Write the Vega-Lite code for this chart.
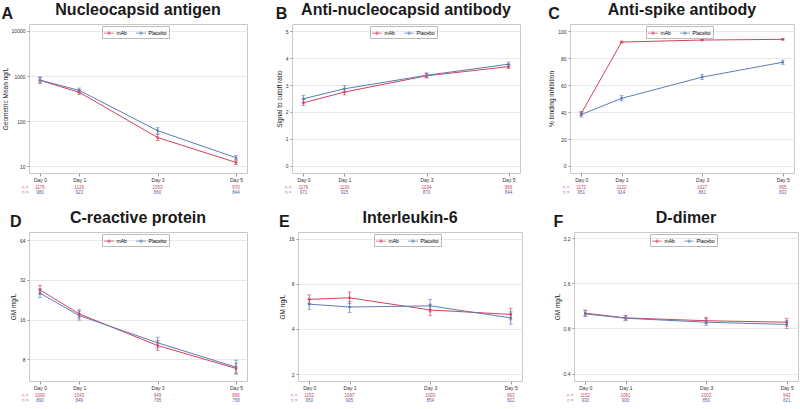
{
  "$schema": "https://vega.github.io/schema/vega-lite/v6.json",
  "background": "white",
  "padding": {"left": 1, "top": 1, "right": 0, "bottom": 0},
  "datasets": {
    "m": [
      {"panel":"A","group":"mAb","day":0,"mean":800,"lo":690,"hi":930},
      {"panel":"A","group":"mAb","day":1,"mean":435,"lo":385,"hi":490},
      {"panel":"A","group":"mAb","day":3,"mean":43,"lo":37,"hi":50},
      {"panel":"A","group":"mAb","day":5,"mean":12,"lo":10.8,"hi":13.5},
      {"panel":"A","group":"Placebo","day":0,"mean":810,"lo":700,"hi":950},
      {"panel":"A","group":"Placebo","day":1,"mean":480,"lo":430,"hi":540},
      {"panel":"A","group":"Placebo","day":3,"mean":61,"lo":52,"hi":71},
      {"panel":"A","group":"Placebo","day":5,"mean":15.3,"lo":13.8,"hi":17},
      {"panel":"B","group":"mAb","day":0,"mean":2.34,"lo":2.24,"hi":2.46},
      {"panel":"B","group":"mAb","day":1,"mean":2.74,"lo":2.63,"hi":2.86},
      {"panel":"B","group":"mAb","day":3,"mean":3.34,"lo":3.26,"hi":3.43},
      {"panel":"B","group":"mAb","day":5,"mean":3.68,"lo":3.61,"hi":3.76},
      {"panel":"B","group":"Placebo","day":0,"mean":2.49,"lo":2.36,"hi":2.62},
      {"panel":"B","group":"Placebo","day":1,"mean":2.86,"lo":2.74,"hi":2.98},
      {"panel":"B","group":"Placebo","day":3,"mean":3.36,"lo":3.27,"hi":3.45},
      {"panel":"B","group":"Placebo","day":5,"mean":3.77,"lo":3.7,"hi":3.85},
      {"panel":"C","group":"mAb","day":0,"mean":39,"lo":37.5,"hi":40.5},
      {"panel":"C","group":"mAb","day":1,"mean":92,"lo":91.3,"hi":92.7},
      {"panel":"C","group":"mAb","day":3,"mean":93.5,"lo":93,"hi":94},
      {"panel":"C","group":"mAb","day":5,"mean":94,"lo":93.5,"hi":94.5},
      {"panel":"C","group":"Placebo","day":0,"mean":38.2,"lo":36.3,"hi":40.1},
      {"panel":"C","group":"Placebo","day":1,"mean":50.2,"lo":48.3,"hi":52.2},
      {"panel":"C","group":"Placebo","day":3,"mean":66,"lo":64.2,"hi":67.9},
      {"panel":"C","group":"Placebo","day":5,"mean":77,"lo":75.5,"hi":78.5},
      {"panel":"D","group":"mAb","day":0,"mean":26.9,"lo":25,"hi":29},
      {"panel":"D","group":"mAb","day":1,"mean":17.7,"lo":16.5,"hi":19},
      {"panel":"D","group":"mAb","day":3,"mean":10.2,"lo":9.4,"hi":11.1},
      {"panel":"D","group":"mAb","day":5,"mean":6.85,"lo":6.3,"hi":7.5},
      {"panel":"D","group":"Placebo","day":0,"mean":25.4,"lo":23.6,"hi":27.4},
      {"panel":"D","group":"Placebo","day":1,"mean":17.2,"lo":15.9,"hi":18.6},
      {"panel":"D","group":"Placebo","day":3,"mean":10.7,"lo":9.8,"hi":11.8},
      {"panel":"D","group":"Placebo","day":5,"mean":7.0,"lo":6.2,"hi":7.9},
      {"panel":"E","group":"mAb","day":0,"mean":6.3,"lo":5.9,"hi":6.75},
      {"panel":"E","group":"mAb","day":1,"mean":6.45,"lo":5.9,"hi":7.05},
      {"panel":"E","group":"mAb","day":3,"mean":5.35,"lo":4.9,"hi":5.85},
      {"panel":"E","group":"mAb","day":5,"mean":5.0,"lo":4.6,"hi":5.5},
      {"panel":"E","group":"Placebo","day":0,"mean":5.85,"lo":5.4,"hi":6.3},
      {"panel":"E","group":"Placebo","day":1,"mean":5.6,"lo":5.15,"hi":6.1},
      {"panel":"E","group":"Placebo","day":3,"mean":5.7,"lo":5.2,"hi":6.3},
      {"panel":"E","group":"Placebo","day":5,"mean":4.74,"lo":4.3,"hi":5.2},
      {"panel":"F","group":"mAb","day":0,"mean":1.01,"lo":0.97,"hi":1.06},
      {"panel":"F","group":"mAb","day":1,"mean":0.94,"lo":0.91,"hi":0.98},
      {"panel":"F","group":"mAb","day":3,"mean":0.9,"lo":0.86,"hi":0.95},
      {"panel":"F","group":"mAb","day":5,"mean":0.88,"lo":0.83,"hi":0.93},
      {"panel":"F","group":"Placebo","day":0,"mean":1.0,"lo":0.96,"hi":1.05},
      {"panel":"F","group":"Placebo","day":1,"mean":0.935,"lo":0.9,"hi":0.97},
      {"panel":"F","group":"Placebo","day":3,"mean":0.88,"lo":0.84,"hi":0.93},
      {"panel":"F","group":"Placebo","day":5,"mean":0.85,"lo":0.8,"hi":0.9}
    ],
    "n": [
      {"panel":"A","group":"mAb","day":0,"n":1176},{"panel":"A","group":"mAb","day":1,"n":1126},{"panel":"A","group":"mAb","day":3,"n":1053},{"panel":"A","group":"mAb","day":5,"n":970},
      {"panel":"A","group":"Placebo","day":0,"n":980},{"panel":"A","group":"Placebo","day":1,"n":923},{"panel":"A","group":"Placebo","day":3,"n":860},{"panel":"A","group":"Placebo","day":5,"n":844},
      {"panel":"B","group":"mAb","day":0,"n":1176},{"panel":"B","group":"mAb","day":1,"n":1130},{"panel":"B","group":"mAb","day":3,"n":1034},{"panel":"B","group":"mAb","day":5,"n":969},
      {"panel":"B","group":"Placebo","day":0,"n":971},{"panel":"B","group":"Placebo","day":1,"n":925},{"panel":"B","group":"Placebo","day":3,"n":870},{"panel":"B","group":"Placebo","day":5,"n":844},
      {"panel":"C","group":"mAb","day":0,"n":1172},{"panel":"C","group":"mAb","day":1,"n":1122},{"panel":"C","group":"mAb","day":3,"n":1027},{"panel":"C","group":"mAb","day":5,"n":965},
      {"panel":"C","group":"Placebo","day":0,"n":951},{"panel":"C","group":"Placebo","day":1,"n":914},{"panel":"C","group":"Placebo","day":3,"n":861},{"panel":"C","group":"Placebo","day":5,"n":833},
      {"panel":"D","group":"mAb","day":0,"n":1090},{"panel":"D","group":"mAb","day":1,"n":1043},{"panel":"D","group":"mAb","day":3,"n":949},{"panel":"D","group":"mAb","day":5,"n":896},
      {"panel":"D","group":"Placebo","day":0,"n":890},{"panel":"D","group":"Placebo","day":1,"n":849},{"panel":"D","group":"Placebo","day":3,"n":795},{"panel":"D","group":"Placebo","day":5,"n":758},
      {"panel":"E","group":"mAb","day":0,"n":1152},{"panel":"E","group":"mAb","day":1,"n":1097},{"panel":"E","group":"mAb","day":3,"n":1003},{"panel":"E","group":"mAb","day":5,"n":963},
      {"panel":"E","group":"Placebo","day":0,"n":950},{"panel":"E","group":"Placebo","day":1,"n":905},{"panel":"E","group":"Placebo","day":3,"n":854},{"panel":"E","group":"Placebo","day":5,"n":822},
      {"panel":"F","group":"mAb","day":0,"n":1152},{"panel":"F","group":"mAb","day":1,"n":1081},{"panel":"F","group":"mAb","day":3,"n":1003},{"panel":"F","group":"mAb","day":5,"n":942},
      {"panel":"F","group":"Placebo","day":0,"n":930},{"panel":"F","group":"Placebo","day":1,"n":900},{"panel":"F","group":"Placebo","day":3,"n":850},{"panel":"F","group":"Placebo","day":5,"n":821}
    ]
  },
  "spacing": 14,
  "resolve": {"scale": {"x": "independent", "y": "independent", "color": "independent"}, "legend": {"color": "independent"}},
  "vconcat": [
    {
      "spacing": 27,
      "resolve": {"scale": {"x": "independent", "y": "independent", "color": "independent"}, "legend": {"color": "independent"}},
      "hconcat": [
        {
          "title": {"text": "A", "anchor": "start", "frame": "bounds", "offset": -20},
          "spacing": 1,
          "resolve": {"scale": {"x": "independent", "y": "independent", "color": "independent"}, "legend": {"color": "independent"}},
          "vconcat": [
            {
              "width": 218, "height": 149,
              "title": {"text": "Nucleocapsid antigen", "anchor": "middle", "frame": "group", "offset": 6},
              "data": {"name": "m"},
              "transform": [{"filter": "datum.panel == 'A'"}],
              "encoding": {
                "x": {"field": "day", "type": "quantitative", "scale": {"domain": [-0.28, 5.28], "nice": false, "zero": false}, "axis": {"values": [0, 1, 3, 5], "labelExpr": "'Day ' + datum.value", "title": null}},
                "color": {"field": "group", "type": "nominal", "scale": {"domain": ["mAb", "Placebo"], "range": ["#d0435b", "#5a7db5"]}, "legend": {"orient": "none", "legendX": 73, "legendY": 2, "direction": "horizontal", "title": null, "symbolType": "M-1,0L1,0M-0.25,0A0.25,0.25,0,1,1,0.25,0A0.25,0.25,0,1,1,-0.25,0Z"}}
              },
              "layer": [
                {"mark": {"type": "line", "strokeWidth": 1}, "encoding": {"y": {"field": "mean", "type": "quantitative", "scale": {"type": "log", "domain": [7, 14300], "nice": false}, "axis": {"values": [10, 100, 1000, 10000], "format": "d", "labelOverlap": false, "title": "Geometric Mean ng/L"}}}},
                {"mark": {"type": "rule", "strokeWidth": 0.8}, "encoding": {"y": {"field": "lo", "type": "quantitative"}, "y2": {"field": "hi"}}},
                {"mark": {"type": "tick", "orient": "horizontal", "size": 4, "thickness": 0.8}, "encoding": {"y": {"field": "lo", "type": "quantitative"}}},
                {"mark": {"type": "tick", "orient": "horizontal", "size": 4, "thickness": 0.8}, "encoding": {"y": {"field": "hi", "type": "quantitative"}}},
                {"mark": {"type": "point", "filled": true, "size": 7, "opacity": 1}, "encoding": {"y": {"field": "mean", "type": "quantitative"}}}
              ]
            },
            {
              "width": 218, "height": 10,
              "view": {"stroke": null},
              "data": {"name": "n"},
              "transform": [{"filter": "datum.panel == 'A'"}],
              "mark": {"type": "text", "fontSize": 4.5},
              "encoding": {
                "x": {"field": "day", "type": "quantitative", "scale": {"domain": [-0.28, 5.28], "nice": false, "zero": false}, "axis": null},
                "y": {"field": "group", "type": "nominal", "sort": ["mAb", "Placebo"], "axis": {"title": null, "labelExpr": "'n ='", "ticks": false, "grid": false, "domain": false, "labelFontSize": 4.5, "labelColor": {"condition": {"test": "datum.value === 'mAb'", "value": "#d98090"}, "value": "#8098c0"}, "labelPadding": 1}},
                "text": {"field": "n", "type": "nominal"},
                "color": {"field": "group", "type": "nominal", "scale": {"domain": ["mAb", "Placebo"], "range": ["#d0435b", "#4a6aa5"]}, "legend": null}
              }
            }
          ]
        },
        {
          "title": {"text": "B", "anchor": "start", "frame": "bounds", "offset": -20},
          "spacing": 1,
          "resolve": {"scale": {"x": "independent", "y": "independent", "color": "independent"}, "legend": {"color": "independent"}},
          "vconcat": [
            {
              "width": 228, "height": 149,
              "title": {"text": "Anti-nucleocapsid antibody", "anchor": "middle", "frame": "group", "offset": 6},
              "data": {"name": "m"},
              "transform": [{"filter": "datum.panel == 'B'"}],
              "encoding": {
                "x": {"field": "day", "type": "quantitative", "scale": {"domain": [-0.28, 5.28], "nice": false, "zero": false}, "axis": {"values": [0, 1, 3, 5], "labelExpr": "'Day ' + datum.value", "title": null}},
                "color": {"field": "group", "type": "nominal", "scale": {"domain": ["mAb", "Placebo"], "range": ["#d0435b", "#5a7db5"]}, "legend": {"orient": "none", "legendX": 78, "legendY": 2, "direction": "horizontal", "title": null, "symbolType": "M-1,0L1,0M-0.25,0A0.25,0.25,0,1,1,0.25,0A0.25,0.25,0,1,1,-0.25,0Z"}}
              },
              "layer": [
                {"mark": {"type": "line", "strokeWidth": 1}, "encoding": {"y": {"field": "mean", "type": "quantitative", "scale": {"domain": [-0.26, 5.26], "nice": false, "zero": false}, "axis": {"values": [0, 1, 2, 3, 4, 5], "tickCount": 6, "labelOverlap": false, "title": "Signal to cutoff ratio"}}}},
                {"mark": {"type": "rule", "strokeWidth": 0.8}, "encoding": {"y": {"field": "lo", "type": "quantitative"}, "y2": {"field": "hi"}}},
                {"mark": {"type": "tick", "orient": "horizontal", "size": 4, "thickness": 0.8}, "encoding": {"y": {"field": "lo", "type": "quantitative"}}},
                {"mark": {"type": "tick", "orient": "horizontal", "size": 4, "thickness": 0.8}, "encoding": {"y": {"field": "hi", "type": "quantitative"}}},
                {"mark": {"type": "point", "filled": true, "size": 7, "opacity": 1}, "encoding": {"y": {"field": "mean", "type": "quantitative"}}}
              ]
            },
            {
              "width": 228, "height": 10,
              "view": {"stroke": null},
              "data": {"name": "n"},
              "transform": [{"filter": "datum.panel == 'B'"}],
              "mark": {"type": "text", "fontSize": 4.5},
              "encoding": {
                "x": {"field": "day", "type": "quantitative", "scale": {"domain": [-0.28, 5.28], "nice": false, "zero": false}, "axis": null},
                "y": {"field": "group", "type": "nominal", "sort": ["mAb", "Placebo"], "axis": {"title": null, "labelExpr": "'n ='", "ticks": false, "grid": false, "domain": false, "labelFontSize": 4.5, "labelColor": {"condition": {"test": "datum.value === 'mAb'", "value": "#d98090"}, "value": "#8098c0"}, "labelPadding": 1}},
                "text": {"field": "n", "type": "nominal"},
                "color": {"field": "group", "type": "nominal", "scale": {"domain": ["mAb", "Placebo"], "range": ["#d0435b", "#4a6aa5"]}, "legend": null}
              }
            }
          ]
        },
        {
          "title": {"text": "C", "anchor": "start", "frame": "bounds", "offset": -20},
          "spacing": 1,
          "resolve": {"scale": {"x": "independent", "y": "independent", "color": "independent"}, "legend": {"color": "independent"}},
          "vconcat": [
            {
              "width": 224, "height": 149,
              "title": {"text": "Anti-spike antibody", "anchor": "middle", "frame": "group", "offset": 6},
              "data": {"name": "m"},
              "transform": [{"filter": "datum.panel == 'C'"}],
              "encoding": {
                "x": {"field": "day", "type": "quantitative", "scale": {"domain": [-0.28, 5.28], "nice": false, "zero": false}, "axis": {"values": [0, 1, 3, 5], "labelExpr": "'Day ' + datum.value", "title": null}},
                "color": {"field": "group", "type": "nominal", "scale": {"domain": ["mAb", "Placebo"], "range": ["#d0435b", "#5a7db5"]}, "legend": {"orient": "none", "legendX": 76, "legendY": 2, "direction": "horizontal", "title": null, "symbolType": "M-1,0L1,0M-0.25,0A0.25,0.25,0,1,1,0.25,0A0.25,0.25,0,1,1,-0.25,0Z"}}
              },
              "layer": [
                {"mark": {"type": "line", "strokeWidth": 1}, "encoding": {"y": {"field": "mean", "type": "quantitative", "scale": {"domain": [-5.2, 105.4], "nice": false, "zero": false}, "axis": {"values": [0, 20, 40, 60, 80, 100], "tickCount": 6, "labelOverlap": false, "title": "% binding inhibition"}}}},
                {"mark": {"type": "rule", "strokeWidth": 0.8}, "encoding": {"y": {"field": "lo", "type": "quantitative"}, "y2": {"field": "hi"}}},
                {"mark": {"type": "tick", "orient": "horizontal", "size": 4, "thickness": 0.8}, "encoding": {"y": {"field": "lo", "type": "quantitative"}}},
                {"mark": {"type": "tick", "orient": "horizontal", "size": 4, "thickness": 0.8}, "encoding": {"y": {"field": "hi", "type": "quantitative"}}},
                {"mark": {"type": "point", "filled": true, "size": 7, "opacity": 1}, "encoding": {"y": {"field": "mean", "type": "quantitative"}}}
              ]
            },
            {
              "width": 224, "height": 10,
              "view": {"stroke": null},
              "data": {"name": "n"},
              "transform": [{"filter": "datum.panel == 'C'"}],
              "mark": {"type": "text", "fontSize": 4.5},
              "encoding": {
                "x": {"field": "day", "type": "quantitative", "scale": {"domain": [-0.28, 5.28], "nice": false, "zero": false}, "axis": null},
                "y": {"field": "group", "type": "nominal", "sort": ["mAb", "Placebo"], "axis": {"title": null, "labelExpr": "'n ='", "ticks": false, "grid": false, "domain": false, "labelFontSize": 4.5, "labelColor": {"condition": {"test": "datum.value === 'mAb'", "value": "#d98090"}, "value": "#8098c0"}, "labelPadding": 1}},
                "text": {"field": "n", "type": "nominal"},
                "color": {"field": "group", "type": "nominal", "scale": {"domain": ["mAb", "Placebo"], "range": ["#d0435b", "#4a6aa5"]}, "legend": null}
              }
            }
          ]
        }
      ]
    },
    {
      "spacing": 30,
      "resolve": {"scale": {"x": "independent", "y": "independent", "color": "independent"}, "legend": {"color": "independent"}},
      "hconcat": [
        {
          "title": {"text": "D", "anchor": "start", "frame": "bounds", "offset": -20},
          "spacing": 1,
          "resolve": {"scale": {"x": "independent", "y": "independent", "color": "independent"}, "legend": {"color": "independent"}},
          "vconcat": [
            {
              "width": 218, "height": 149,
              "title": {"text": "C-reactive protein", "anchor": "middle", "frame": "group", "offset": 6},
              "data": {"name": "m"},
              "transform": [{"filter": "datum.panel == 'D'"}],
              "encoding": {
                "x": {"field": "day", "type": "quantitative", "scale": {"domain": [-0.28, 5.28], "nice": false, "zero": false}, "axis": {"values": [0, 1, 3, 5], "labelExpr": "'Day ' + datum.value", "title": null}},
                "color": {"field": "group", "type": "nominal", "scale": {"domain": ["mAb", "Placebo"], "range": ["#d0435b", "#5a7db5"]}, "legend": {"orient": "none", "legendX": 73, "legendY": 2, "direction": "horizontal", "title": null, "symbolType": "M-1,0L1,0M-0.25,0A0.25,0.25,0,1,1,0.25,0A0.25,0.25,0,1,1,-0.25,0Z"}}
              },
              "layer": [
                {"mark": {"type": "line", "strokeWidth": 1}, "encoding": {"y": {"field": "mean", "type": "quantitative", "scale": {"type": "log", "base": 2, "domain": [5.5, 73.7], "nice": false}, "axis": {"values": [8, 16, 32, 64], "format": "d", "labelOverlap": false, "title": "GM mg/L"}}}},
                {"mark": {"type": "rule", "strokeWidth": 0.8}, "encoding": {"y": {"field": "lo", "type": "quantitative"}, "y2": {"field": "hi"}}},
                {"mark": {"type": "tick", "orient": "horizontal", "size": 4, "thickness": 0.8}, "encoding": {"y": {"field": "lo", "type": "quantitative"}}},
                {"mark": {"type": "tick", "orient": "horizontal", "size": 4, "thickness": 0.8}, "encoding": {"y": {"field": "hi", "type": "quantitative"}}},
                {"mark": {"type": "point", "filled": true, "size": 7, "opacity": 1}, "encoding": {"y": {"field": "mean", "type": "quantitative"}}}
              ]
            },
            {
              "width": 218, "height": 10,
              "view": {"stroke": null},
              "data": {"name": "n"},
              "transform": [{"filter": "datum.panel == 'D'"}],
              "mark": {"type": "text", "fontSize": 4.5},
              "encoding": {
                "x": {"field": "day", "type": "quantitative", "scale": {"domain": [-0.28, 5.28], "nice": false, "zero": false}, "axis": null},
                "y": {"field": "group", "type": "nominal", "sort": ["mAb", "Placebo"], "axis": {"title": null, "labelExpr": "'n ='", "ticks": false, "grid": false, "domain": false, "labelFontSize": 4.5, "labelColor": {"condition": {"test": "datum.value === 'mAb'", "value": "#d98090"}, "value": "#8098c0"}, "labelPadding": 1}},
                "text": {"field": "n", "type": "nominal"},
                "color": {"field": "group", "type": "nominal", "scale": {"domain": ["mAb", "Placebo"], "range": ["#d0435b", "#4a6aa5"]}, "legend": null}
              }
            }
          ]
        },
        {
          "title": {"text": "E", "anchor": "start", "frame": "bounds", "offset": -20},
          "spacing": 1,
          "resolve": {"scale": {"x": "independent", "y": "independent", "color": "independent"}, "legend": {"color": "independent"}},
          "vconcat": [
            {
              "width": 224, "height": 149,
              "title": {"text": "Interleukin-6", "anchor": "middle", "frame": "group", "offset": 6},
              "data": {"name": "m"},
              "transform": [{"filter": "datum.panel == 'E'"}],
              "encoding": {
                "x": {"field": "day", "type": "quantitative", "scale": {"domain": [-0.28, 5.28], "nice": false, "zero": false}, "axis": {"values": [0, 1, 3, 5], "labelExpr": "'Day ' + datum.value", "title": null}},
                "color": {"field": "group", "type": "nominal", "scale": {"domain": ["mAb", "Placebo"], "range": ["#d0435b", "#5a7db5"]}, "legend": {"orient": "none", "legendX": 76, "legendY": 2, "direction": "horizontal", "title": null, "symbolType": "M-1,0L1,0M-0.25,0A0.25,0.25,0,1,1,0.25,0A0.25,0.25,0,1,1,-0.25,0Z"}}
              },
              "layer": [
                {"mark": {"type": "line", "strokeWidth": 1}, "encoding": {"y": {"field": "mean", "type": "quantitative", "scale": {"type": "log", "base": 2, "domain": [1.8, 17.7], "nice": false}, "axis": {"values": [2, 4, 8, 16], "format": "d", "labelOverlap": false, "title": "GM ng/L"}}}},
                {"mark": {"type": "rule", "strokeWidth": 0.8}, "encoding": {"y": {"field": "lo", "type": "quantitative"}, "y2": {"field": "hi"}}},
                {"mark": {"type": "tick", "orient": "horizontal", "size": 4, "thickness": 0.8}, "encoding": {"y": {"field": "lo", "type": "quantitative"}}},
                {"mark": {"type": "tick", "orient": "horizontal", "size": 4, "thickness": 0.8}, "encoding": {"y": {"field": "hi", "type": "quantitative"}}},
                {"mark": {"type": "point", "filled": true, "size": 7, "opacity": 1}, "encoding": {"y": {"field": "mean", "type": "quantitative"}}}
              ]
            },
            {
              "width": 224, "height": 10,
              "view": {"stroke": null},
              "data": {"name": "n"},
              "transform": [{"filter": "datum.panel == 'E'"}],
              "mark": {"type": "text", "fontSize": 4.5},
              "encoding": {
                "x": {"field": "day", "type": "quantitative", "scale": {"domain": [-0.28, 5.28], "nice": false, "zero": false}, "axis": null},
                "y": {"field": "group", "type": "nominal", "sort": ["mAb", "Placebo"], "axis": {"title": null, "labelExpr": "'n ='", "ticks": false, "grid": false, "domain": false, "labelFontSize": 4.5, "labelColor": {"condition": {"test": "datum.value === 'mAb'", "value": "#d98090"}, "value": "#8098c0"}, "labelPadding": 1}},
                "text": {"field": "n", "type": "nominal"},
                "color": {"field": "group", "type": "nominal", "scale": {"domain": ["mAb", "Placebo"], "range": ["#d0435b", "#4a6aa5"]}, "legend": null}
              }
            }
          ]
        },
        {
          "title": {"text": "F", "anchor": "start", "frame": "bounds", "offset": -20},
          "spacing": 1,
          "resolve": {"scale": {"x": "independent", "y": "independent", "color": "independent"}, "legend": {"color": "independent"}},
          "vconcat": [
            {
              "width": 224, "height": 149,
              "title": {"text": "D-dimer", "anchor": "middle", "frame": "group", "offset": 6},
              "data": {"name": "m"},
              "transform": [{"filter": "datum.panel == 'F'"}],
              "encoding": {
                "x": {"field": "day", "type": "quantitative", "scale": {"domain": [-0.28, 5.28], "nice": false, "zero": false}, "axis": {"values": [0, 1, 3, 5], "labelExpr": "'Day ' + datum.value", "title": null}},
                "color": {"field": "group", "type": "nominal", "scale": {"domain": ["mAb", "Placebo"], "range": ["#d0435b", "#5a7db5"]}, "legend": {"orient": "none", "legendX": 76, "legendY": 2, "direction": "horizontal", "title": null, "symbolType": "M-1,0L1,0M-0.25,0A0.25,0.25,0,1,1,0.25,0A0.25,0.25,0,1,1,-0.25,0Z"}}
              },
              "layer": [
                {"mark": {"type": "line", "strokeWidth": 1}, "encoding": {"y": {"field": "mean", "type": "quantitative", "scale": {"type": "log", "base": 2, "domain": [0.357, 3.51], "nice": false}, "axis": {"values": [0.4, 0.8, 1.6, 3.2], "format": ".1f", "labelOverlap": false, "title": "GM mg/L"}}}},
                {"mark": {"type": "rule", "strokeWidth": 0.8}, "encoding": {"y": {"field": "lo", "type": "quantitative"}, "y2": {"field": "hi"}}},
                {"mark": {"type": "tick", "orient": "horizontal", "size": 4, "thickness": 0.8}, "encoding": {"y": {"field": "lo", "type": "quantitative"}}},
                {"mark": {"type": "tick", "orient": "horizontal", "size": 4, "thickness": 0.8}, "encoding": {"y": {"field": "hi", "type": "quantitative"}}},
                {"mark": {"type": "point", "filled": true, "size": 7, "opacity": 1}, "encoding": {"y": {"field": "mean", "type": "quantitative"}}}
              ]
            },
            {
              "width": 224, "height": 10,
              "view": {"stroke": null},
              "data": {"name": "n"},
              "transform": [{"filter": "datum.panel == 'F'"}],
              "mark": {"type": "text", "fontSize": 4.5},
              "encoding": {
                "x": {"field": "day", "type": "quantitative", "scale": {"domain": [-0.28, 5.28], "nice": false, "zero": false}, "axis": null},
                "y": {"field": "group", "type": "nominal", "sort": ["mAb", "Placebo"], "axis": {"title": null, "labelExpr": "'n ='", "ticks": false, "grid": false, "domain": false, "labelFontSize": 4.5, "labelColor": {"condition": {"test": "datum.value === 'mAb'", "value": "#d98090"}, "value": "#8098c0"}, "labelPadding": 1}},
                "text": {"field": "n", "type": "nominal"},
                "color": {"field": "group", "type": "nominal", "scale": {"domain": ["mAb", "Placebo"], "range": ["#d0435b", "#4a6aa5"]}, "legend": null}
              }
            }
          ]
        }
      ]
    }
  ],
  "config": {
    "font": "Liberation Sans",
    "view": {"stroke": "#c8c8c8", "strokeWidth": 1},
    "title": {"fontSize": 16, "fontWeight": "bold", "color": "#1a1a1a"},
    "axis": {"labelFontSize": 5, "titleFontSize": 6.5, "titleFontWeight": "normal", "labelColor": "#333", "titleColor": "#222", "tickSize": 2, "tickColor": "#999", "domain": false, "gridColor": "#e8e8e8", "labelPadding": 2, "titlePadding": 3, "labelOverlap": false, "minExtent": 0},
    "axisX": {"grid": false, "tickSize": 3, "labelPadding": 1},
    "legend": {"labelFontSize": 5, "symbolSize": 100, "padding": 1.5, "strokeColor": "#bbb", "columnPadding": 6, "symbolStrokeWidth": 1, "labelOffset": 2}
  }
}
